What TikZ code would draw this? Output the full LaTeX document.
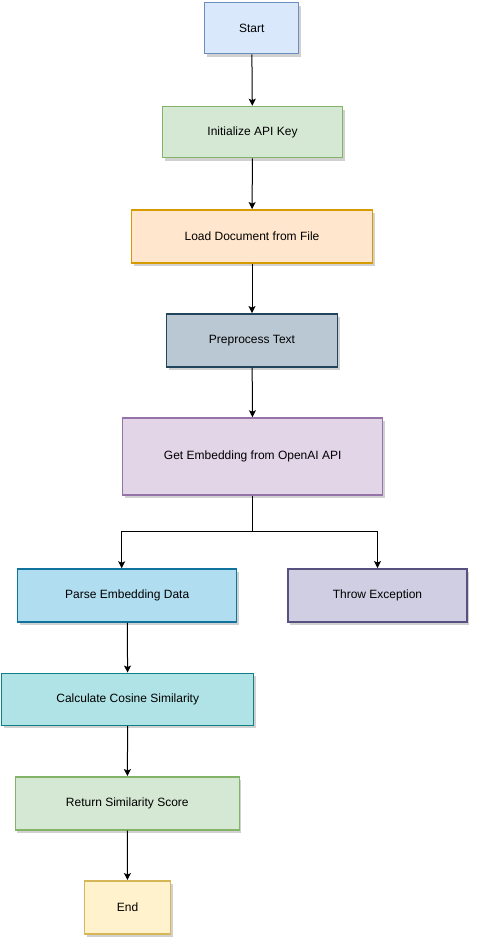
\documentclass[tikz,border=0pt]{standalone}
\usepackage{fontspec}
\setmainfont{Liberation Sans}
\usetikzlibrary{arrows.meta,shadows}
\definecolor{fStart}{HTML}{DAE8FC}\definecolor{sStart}{HTML}{6C8EBF}
\definecolor{fGreen}{HTML}{D5E8D4}\definecolor{sGreen}{HTML}{82B366}
\definecolor{fOrange}{HTML}{FFE6CC}\definecolor{sOrange}{HTML}{D79B00}
\definecolor{fSlate}{HTML}{BAC8D3}\definecolor{sSlate}{HTML}{23445D}
\definecolor{fPurple}{HTML}{E1D5E7}\definecolor{sPurple}{HTML}{9673A6}
\definecolor{fBlue}{HTML}{B1DDF0}\definecolor{sBlue}{HTML}{10739E}
\definecolor{fLav}{HTML}{D0CEE2}\definecolor{sLav}{HTML}{56517E}
\definecolor{fTeal}{HTML}{B0E3E6}\definecolor{sTeal}{HTML}{0E8088}
\definecolor{fYellow}{HTML}{FFF2CC}\definecolor{sYellow}{HTML}{D6B656}
\tikzset{
  box/.style={rectangle, line width=1.5pt, inner sep=0pt, align=center,
    font=\fontsize{12}{14}\selectfont,
    drop shadow={shadow xshift=2pt, shadow yshift=-3pt, opacity=0.18, fill=black}},
  arr/.style={draw=black, line width=1pt, -{Stealth[length=7pt,width=7pt,inset=1.5pt]}}
}
\begin{document}
\begin{tikzpicture}[x=1pt,y=-1pt]
\useasboundingbox[fill=white] (0,0) rectangle (479,946);
\node[box, fill=fStart, draw=sStart, minimum width=94, minimum height=51] (start) at (251.7,28) {Start};
\node[box, fill=fGreen, draw=sGreen, minimum width=180, minimum height=51] (init) at (252.5,132) {Initialize API Key};
\node[box, fill=fOrange, draw=sOrange, minimum width=241, minimum height=53] (load) at (252,236.3) {Load Document from File};
\node[box, fill=fSlate, draw=sSlate, minimum width=171, minimum height=53] (pre) at (252,340.3) {Preprocess Text};
\node[box, fill=fPurple, draw=sPurple, minimum width=260, minimum height=77] (emb) at (252.7,456.5) {Get Embedding from OpenAI API};
\node[box, fill=fBlue, draw=sBlue, minimum width=219, minimum height=53] (parse) at (127.2,595.5) {Parse Embedding Data};
\node[box, fill=fLav, draw=sLav, minimum width=179, minimum height=53] (throw) at (377.5,595.3) {Throw Exception};
\node[box, fill=fTeal, draw=sTeal, minimum width=252, minimum height=52] (calc) at (127.7,699.3) {Calculate Cosine Similarity};
\node[box, fill=fGreen, draw=sGreen, minimum width=224, minimum height=53] (ret) at (127.3,803.3) {Return Similarity Score};
\node[box, fill=fYellow, draw=sYellow, minimum width=86, minimum height=53] (end) at (127.5,907.3) {End};
\coordinate (j) at (252.7,531.7);
\draw[arr] (start) -- (init);
\draw[arr] (init) -- (load);
\draw[arr] (load) -- (pre);
\draw[arr] (pre) -- (emb);
\draw[line width=1pt] (emb.south) -- (j);
\draw[arr] (j) -| ([xshift=-5.5pt]parse.north);
\draw[arr] (j) -| (throw.north);
\draw[arr] (parse) -- (calc);
\draw[arr] (calc) -- (ret);
\draw[arr] (ret) -- (end);
\end{tikzpicture}
\end{document}
